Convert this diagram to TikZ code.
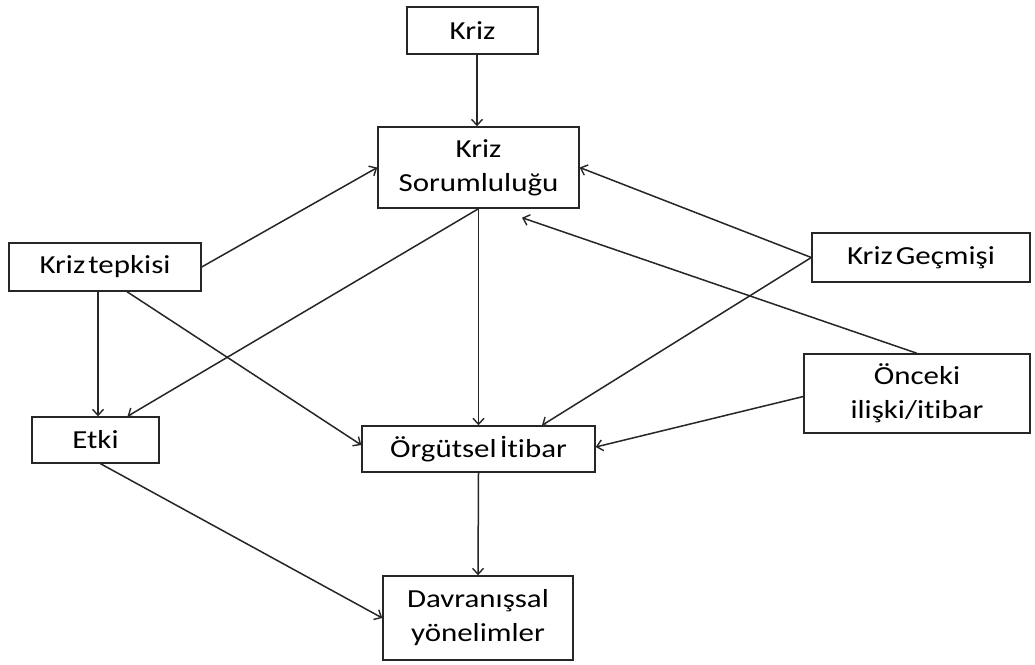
\documentclass[tikz,border=0pt]{standalone}
\usepackage{fontspec}
\setmainfont{Carlito}[FakeStretch=1.19,Ligatures=NoCommon]
\usetikzlibrary{arrows.meta,calc}
\begin{document}
\begin{tikzpicture}[x=1pt,y=-1pt,
  box/.style={draw=black!85, line width=1.4pt, rectangle, inner sep=0pt, align=center,
    font=\fontsize{26}{34}\selectfont},
  arr/.style={draw=black!85, line width=1.5pt,
    -{Straight Barb[length=6pt,width=11pt,line width=1.4pt]}}]
\useasboundingbox (0,0) rectangle (1035,664);
\fill[white] (0,0) rectangle (1035,664);

\node[box, minimum width=131pt, minimum height=47pt] (kriz) at (472.5,30.5) {Kriz};
\node[box, minimum width=201pt, minimum height=81pt] (sor) at (478.5,167.5) {Kriz\\Sorumluluğu};
\node[box, minimum width=192pt, minimum height=48pt] (tep) at (105,267) {Kriz\hspace{0.12em}tepkisi};
\node[box, minimum width=218pt, minimum height=49pt] (gec) at (921,257.5) {Kriz\hspace{0.12em}Geçmişi};
\node[box, minimum width=226pt, minimum height=79pt] (onc) at (917,393.5) {Önceki\\ilişki/itibar};
\node[box, minimum width=127pt, minimum height=46pt] (etki) at (95.5,440) {Etki};
\node[box, minimum width=233pt, minimum height=46pt] (org) at (478.5,449) {Örgütsel\hspace{0.12em}İtibar};
\node[box, minimum width=190pt, minimum height=84pt] (dav) at (478,618) {Davranışsal\\yönelimler};

\coordinate (p) at ([xshift=43.5pt,yshift=-9pt]sor.south);

\draw[arr] ([xshift=4.5pt]kriz.south) -- ([xshift=-1.5pt]sor.north);
\draw[arr] (tep.east) -- (sor.west);
\draw[arr] (sor.south) -- ([xshift=32pt]etki.north);
\draw[arr] (sor.south) -- (org.north);
\draw[arr] ([xshift=-7pt]tep.south) -- ([xshift=2.5pt]etki.north);
\draw[arr] ([xshift=22pt]tep.south) -- ([yshift=4pt]org.west);
\draw[arr] (gec.west) -- (sor.east);
\draw[arr] (gec.west) -- ([xshift=63.5pt]org.north);
\draw[arr] (onc.north) -- (p);
\draw[arr] ([yshift=-3pt]onc.west) -- ([yshift=2pt]org.east);
\draw[arr] ([xshift=5pt]etki.south) -- (dav.west);
\draw[arr] (org.south) -- (dav.north);
\end{tikzpicture}
\end{document}
